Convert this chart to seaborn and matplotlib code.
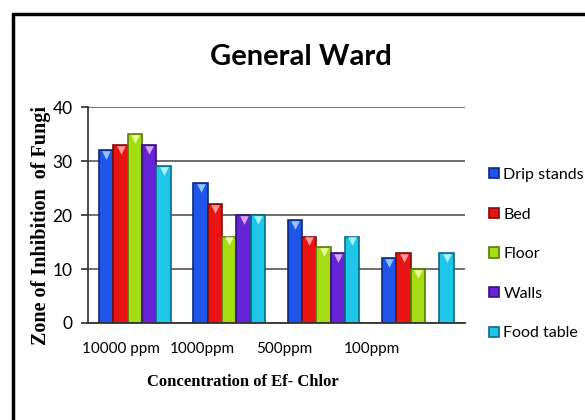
import numpy as np
import pandas as pd
import matplotlib
matplotlib.use("Agg")
import matplotlib.pyplot as plt
from matplotlib.patches import Rectangle
from matplotlib.lines import Line2D
from matplotlib.transforms import ScaledTranslation
import seaborn as sns

concentrations = ["10000 ppm", "1000ppm", "500ppm", "100ppm"]
surfaces = ["Drip stands", "Bed", "Floor", "Walls", "Food table"]
drip_stands = [32, 26, 19, 12]
bed = [33, 22, 16, 13]
floor = [35, 16, 14, 10]
walls = [33, 20, 13, np.nan]
food_table = [29, 20, 16, 13]
y_ticks = [0, 10, 20, 30, 40]

colors = ["#1f55e8", "#e81414", "#a6dc14", "#6624d6", "#1ec6ea"]
edges = ["#0a2a80", "#800a0a", "#5a7a0a", "#35107a", "#0a6a80"]
tops = ["#8fc8ff", "#ff9a9a", "#e8ff9a", "#d6a8ff", "#a8f4ff"]

rows = []
for name, vals in zip(surfaces, [drip_stands, bed, floor, walls, food_table]):
    for c, v in zip(concentrations, vals):
        rows.append({"Concentration": c, "Surface": name, "Zone": v})
df = pd.DataFrame(rows)

sns.set_theme(style="white")
plt.rcParams["text.color"] = "black"
plt.rcParams["axes.labelcolor"] = "black"
plt.rcParams["xtick.color"] = "black"
plt.rcParams["ytick.color"] = "black"
narrow = ["Lato", "DejaVu Sans"]
serif = ["Liberation Serif", "DejaVu Serif"]

fig = plt.figure(figsize=(5.85, 4.2), dpi=100)
ax = fig.add_axes([0.150, 0.231, 0.645, 0.514])

sns.barplot(data=df, x="Concentration", y="Zone", hue="Surface",
            order=concentrations, hue_order=surfaces, palette=colors,
            width=0.76, gap=0, errorbar=None, ax=ax, legend=False,
            linewidth=1.2, saturation=1)

# darker outline and a light cap on each bar for the raised look
for i, cont in enumerate(ax.containers):
    for p in cont.patches:
        p.set_edgecolor(edges[i])
        h = p.get_height()
        if np.isfinite(h) and h > 0:
            ax.scatter(p.get_x() + p.get_width() / 2, h - 0.9, marker="v",
                       s=38, color=tops[i], zorder=5, linewidths=0)

ax.set_ylim(0, 40)
ax.set_xlim(-0.5, 3.5)
ax.set_yticks(y_ticks)
ax.set_yticklabels([str(t) for t in y_ticks], fontsize=12.5, family=narrow)
ax.set_xticks(range(len(concentrations)))
ax.set_xticklabels(concentrations, fontsize=11, family=narrow)
ax.yaxis.grid(True, color="#555555", linewidth=1.2)
ax.set_axisbelow(True)
for s in ["top", "right"]:
    ax.spines[s].set_visible(False)
ax.spines["left"].set_color("#333333")
ax.spines["bottom"].set_color("#333333")
ax.spines["bottom"].set_linewidth(1.3)
ax.tick_params(axis="y", left=True, length=5, color="#333333", pad=6)
ax.tick_params(axis="x", bottom=False, pad=8)

# category labels sit slightly left of their bar groups
label_shift_px = [-14, -27, -39, -46]
for lbl, dx in zip(ax.get_xticklabels(), label_shift_px):
    lbl.set_transform(lbl.get_transform() +
                      ScaledTranslation(dx / 100, 0, fig.dpi_scale_trans))

ax.set_ylabel("Zone of Inhibition  of Fungi", fontsize=14.5, fontweight="bold",
              family=serif)
ax.yaxis.set_label_coords(-0.097, 0.45)
ax.set_xlabel("Concentration of Ef- Chlor", fontsize=12, fontweight="bold",
              family=serif)
ax.xaxis.set_label_coords(0.41, -0.235)

fig.text(0.515, 0.864, "General Ward", ha="center", va="center",
         fontsize=21, fontweight="bold", family=["Lato", "DejaVu Sans"])

handles = [Rectangle((0, 0), 1, 1, facecolor=c, edgecolor=e, linewidth=1.2)
           for c, e in zip(colors, edges)]
leg = fig.legend(handles, surfaces, loc="center left",
                 bbox_to_anchor=(0.836, 0.395), frameon=False,
                 prop={"family": narrow, "size": 11.5}, borderpad=0,
                 borderaxespad=0, handlelength=0.6, handleheight=0.6,
                 handletextpad=0.3, labelspacing=1.6)

# frame around the figure
fig.add_artist(Line2D([13 / 585, 13 / 585], [0, 1 - 14 / 420],
                      transform=fig.transFigure, color="black", linewidth=2.5))
fig.add_artist(Line2D([13 / 585, 1], [1 - 14 / 420, 1 - 14 / 420],
                      transform=fig.transFigure, color="black", linewidth=2.5))

fig.savefig("out.png", dpi=100)
